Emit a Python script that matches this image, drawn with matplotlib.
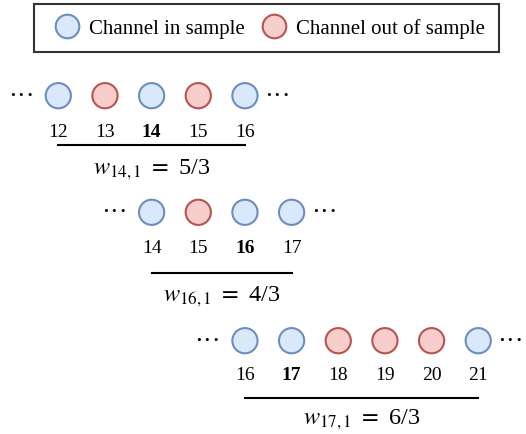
import matplotlib
matplotlib.use('Agg')
import matplotlib.pyplot as plt
from matplotlib.lines import Line2D

plt.rcParams['font.family'] = ['Liberation Serif', 'DejaVu Serif']
plt.rcParams['mathtext.fontset'] = 'stix'

# channels shown in each row, whether each is in the sample, the centre channel and its weight
row1_channels = [12, 13, 14, 15, 16]
row1_in_sample = [True, False, True, False, True]
row1_target = 14
row1_weight = '5/3'

row2_channels = [14, 15, 16, 17]
row2_in_sample = [True, False, True, True]
row2_target = 16
row2_weight = '4/3'

row3_channels = [16, 17, 18, 19, 20, 21]
row3_in_sample = [True, True, False, False, False, True]
row3_target = 17
row3_weight = '6/3'

legend_labels = ['Channel in sample', 'Channel out of sample']

# colours (draw.io style)
in_fill, in_edge = '#dae8fc', '#6c8ebf'
out_fill, out_edge = '#f8cecc', '#b85450'

# layout in pixels: circle row, number row, underline, weight text
row_y = [(96.7, 132.3, 145.7, 170), (213.3, 249, 274, 297), (341.7, 376, 398.7, 420)]

W, H = 526, 435
fig = plt.figure(figsize=(W / 100, H / 100), dpi=100)
ax = fig.add_axes([0, 0, 1, 1])
# x axis in channel units: channel 12 sits at pixel 58.3, 46.66 px per channel
x0, step = 58.3, 46.66
ax.set_xlim(12 - x0 / step, 12 + (W - x0) / step)
ax.set_ylim(H, 0)
ax.axis('off')

rows = [
    (row1_channels, row1_in_sample, row1_target, row1_weight),
    (row2_channels, row2_in_sample, row2_target, row2_weight),
    (row3_channels, row3_in_sample, row3_target, row3_weight),
]

for (chs, ins, tgt, wt), (yc, yn, yl, yw) in zip(rows, row_y):
    fills = [in_fill if f else out_fill for f in ins]
    edges = [in_edge if f else out_edge for f in ins]
    ax.scatter(chs, [yc] * len(chs), s=330, c=fills, edgecolors=edges,
               linewidths=1.5, zorder=3)
    for c in chs:
        ax.text(c, yn, str(c), ha='center', va='center', fontsize=14,
                fontweight='bold' if c == tgt else 'normal')
    ax.text(chs[0] - 0.8, yc, '···', ha='center', va='center', fontsize=19)
    ax.text(chs[-1] + 0.7, yc, '···', ha='center', va='center', fontsize=19)
    ax.plot([chs[0], chs[-1]], [yl, yl], color='black', lw=1.5)
    mid = (chs[0] + chs[-1]) / 2
    ax.text(mid, yw, r'$w_{%d,1}$ $=$ %s' % (tgt, wt), ha='center', va='center',
            fontsize=17.5)

handles = [
    Line2D([], [], ls='none', marker='o', ms=17, mfc=in_fill, mec=in_edge, mew=1.5),
    Line2D([], [], ls='none', marker='o', ms=17, mfc=out_fill, mec=out_edge, mew=1.5),
]
leg = ax.legend(handles, legend_labels, loc='upper center', bbox_to_anchor=(0.507, 1 - 5 / H),
                borderaxespad=0, ncol=2, fontsize=15, frameon=True, fancybox=False,
                edgecolor='black', handlelength=1.77, handletextpad=0.17,
                columnspacing=0.56, borderpad=0.68)
leg.get_frame().set_linewidth(1.5)

fig.savefig('out.png', dpi=100)
